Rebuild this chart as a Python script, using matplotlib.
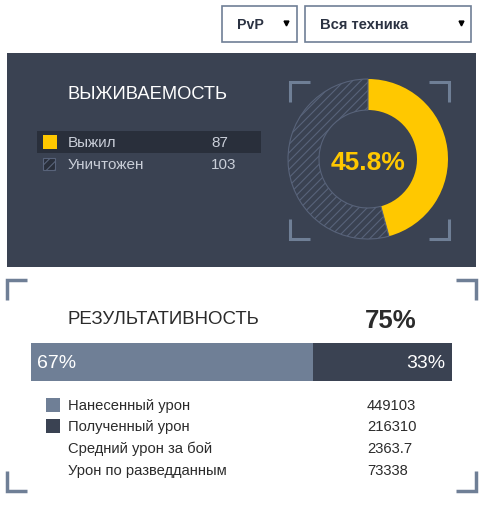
import matplotlib
matplotlib.use('Agg')
import matplotlib.pyplot as plt
from matplotlib.patches import Rectangle

plt.rcParams['font.family'] = ['Liberation Sans', 'DejaVu Sans']
plt.rcParams['hatch.linewidth'] = 0.8

# data
filters = ['PvP', 'Вся техника']
survival_title = 'ВЫЖИВАЕМОСТЬ'
survival_labels = ['Выжил', 'Уничтожен']
survival_counts = [87, 103]
eff_title = 'РЕЗУЛЬТАТИВНОСТЬ'
eff_pct = 75
damage_split = [67, 33]
stat_labels = ['Нанесенный урон', 'Полученный урон', 'Средний урон за бой', 'Урон по разведданным']
stat_values = ['449103', '216310', '2363.7', '73338']

# colours
panel = '#3a4252'
panel_dark = '#292f3b'
yellow = '#ffc800'
slate = '#6f7f96'
hatch_col = '#58637a'
light_txt = '#c9ced8'
dark_txt = '#2b2b2b'

W, H = 481, 506
fig = plt.figure(figsize=(W / 100, H / 100), dpi=100)
ax = fig.add_axes([0, 0, 1, 1])
ax.set_xlim(0, W)
ax.set_ylim(H, 0)
ax.axis('off')


def corners(x0, y0, x1, y1, arm=20, lw=2.2):
    for cx, cy, dx, dy in [(x0, y0, 1, 1), (x1, y0, -1, 1), (x0, y1, 1, -1), (x1, y1, -1, -1)]:
        ax.plot([cx + dx * arm, cx, cx], [cy, cy, cy + dy * arm], color=slate, lw=lw,
                solid_joinstyle='miter', solid_capstyle='butt')


# dropdowns
ax.add_patch(Rectangle((222.5, 6.5), 75, 36, fc='white', ec=slate, lw=1.2))
ax.add_patch(Rectangle((305.5, 6.5), 166, 36, fc='white', ec=slate, lw=1.2))
ax.text(237, 25, filters[0], fontsize=10.2, fontweight='bold', color='#2b3242', va='center')
ax.text(320, 25, filters[1], fontsize=10.6, fontweight='bold', color='#2b3242', va='center')
ax.plot([286, 461], [23.5, 23.5], 'v', color='black', ms=3.5, ls='none')

# survival panel
ax.add_patch(Rectangle((7, 54), 469, 214, fc=panel, ec='none'))
ax.text(68, 94, survival_title, fontsize=13.2, color='white', va='center')
ax.add_patch(Rectangle((37, 132), 224, 22, fc=panel_dark, ec='none'))
rows_y = [143, 165]
ax.add_patch(Rectangle((43, 136), 14, 14, fc=yellow, ec='none'))
ax.add_patch(Rectangle((43.5, 158.5), 12, 12, fc=panel_dark, ec=hatch_col, lw=0.8, hatch='////'))
for y, lab, cnt in zip(rows_y, survival_labels, survival_counts):
    ax.text(68, y, lab, fontsize=11, color=light_txt, va='center')
    ax.text(211, y, str(cnt), fontsize=11, color=light_txt, va='center')

# donut
R = 80
dax = fig.add_axes([(368 - 90) / W, (H - 160 - 90) / H, 180 / W, 180 / H])
wedges, _ = dax.pie(survival_counts, radius=R, startangle=90, counterclock=False,
                    colors=[yellow, panel], wedgeprops=dict(width=31, linewidth=0))
wedges[1].set_hatch('////')
wedges[1].set_edgecolor(hatch_col)
wedges[1].set_linewidth(0.8)
dax.set_xlim(-90, 90)
dax.set_ylim(-90, 90)
dax.axis('off')
pct = survival_counts[0] / sum(survival_counts) * 100
dax.text(0, -3, f'{pct:.1f}%', fontsize=19, fontweight='bold', color=yellow, ha='center', va='center')
corners(290, 83, 449, 240)

# efficiency block
corners(7, 281, 476, 492, lw=2.5)
ax.text(68, 320, eff_title, fontsize=13.4, color=dark_txt, va='center')
ax.text(417, 321, f'{eff_pct}%', fontsize=18.5, fontweight='bold', color=dark_txt, ha='right', va='center')

bax = fig.add_axes([31 / W, (H - 382) / H, 421 / W, 38 / H])
bax.barh(0, damage_split[0], left=0, height=1, color=slate)
bax.barh(0, damage_split[1], left=damage_split[0], height=1, color=panel)
bax.set_xlim(0, sum(damage_split))
bax.set_ylim(-0.5, 0.5)
bax.axis('off')
bax.text(1.4, 0, f'{damage_split[0]}%', fontsize=14, color='white', va='center')
bax.text(sum(damage_split) - 1.6, 0, f'{damage_split[1]}%', fontsize=14, color='white', ha='right', va='center')

stat_y = [406, 427, 449, 471]
ax.add_patch(Rectangle((46, 399), 14, 14, fc=slate, ec='none'))
ax.add_patch(Rectangle((46, 420), 14, 14, fc=panel, ec='none'))
for y, lab, val in zip(stat_y, stat_labels, stat_values):
    ax.text(68, y, lab, fontsize=10.6, color=dark_txt, va='center')
    ax.text(367, y, val, fontsize=10.6, color=dark_txt, va='center')

fig.savefig('out.png', dpi=100)
